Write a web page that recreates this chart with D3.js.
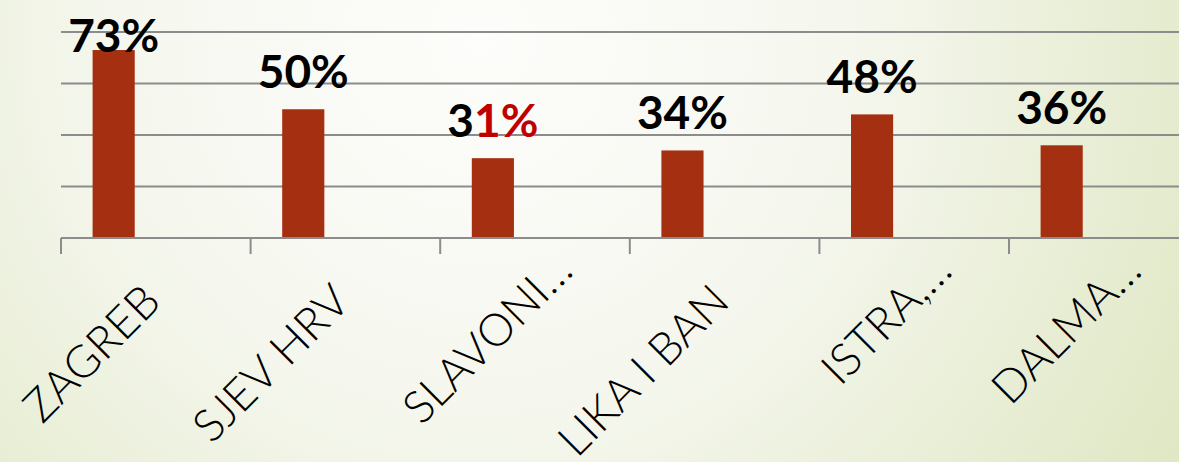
<!DOCTYPE html>
<html>
<head>
<meta charset="utf-8">
<script src="https://cdn.jsdelivr.net/npm/d3@7"></script>
<style>
  html, body { margin: 0; padding: 0; overflow: hidden; }
  svg { display: block; }
</style>
</head>
<body>
<svg id="chart"></svg>
<script>
const categories = ["ZAGREB", "SJEV HRV", "SLAVONI…", "LIKA I BAN", "ISTRA,…", "DALMA…"];
const values = [73, 50, 31, 34, 48, 36];
const gridTicks = [20, 40, 60, 80];
const highlighted = ["SLAVONI…"];

const width = 1179;
const height = 462;

const svg = d3.select("#chart")
    .attr("width", width)
    .attr("height", height);

// background
const defs = svg.append("defs");
const grad = defs.append("radialGradient")
    .attr("id", "bg")
    .attr("gradientUnits", "userSpaceOnUse")
    .attr("cx", 480).attr("cy", 40).attr("r", 820);
grad.append("stop").attr("offset", "0%").attr("stop-color", "#fdfdfb");
grad.append("stop").attr("offset", "45%").attr("stop-color", "#f5f7ee");
grad.append("stop").attr("offset", "100%").attr("stop-color", "#dfe7c3");

svg.append("rect")
    .attr("width", width)
    .attr("height", height)
    .attr("fill", "url(#bg)");

const x = d3.scaleBand()
    .domain(categories)
    .range([61, 61 + 6 * 189.6]);

// 3 series slots per category, only the first one has data
const xs = d3.scaleBand()
    .domain([0, 1, 2])
    .range([0, x.bandwidth()])
    .paddingOuter(0.75);

const y = d3.scaleLinear()
    .domain([0, 80])
    .range([238, 32]);

// gridlines
svg.append("g")
    .selectAll("line")
    .data(gridTicks)
    .join("line")
    .attr("x1", 61)
    .attr("x2", width)
    .attr("y1", d => y(d))
    .attr("y2", d => y(d))
    .attr("stroke", "#8c8c8c")
    .attr("stroke-width", 2);

// bars
svg.append("g")
    .selectAll("rect")
    .data(values)
    .join("rect")
    .attr("x", (d, i) => x(categories[i]) + xs(0))
    .attr("y", d => y(d))
    .attr("width", xs.bandwidth())
    .attr("height", d => y(0) - y(d))
    .attr("fill", "#a52f11");

// x axis
const xAxis = svg.append("g")
    .attr("transform", `translate(0, ${y(0)})`)
    .call(d3.axisBottom(x).tickSize(16).tickFormat(""));

xAxis.select(".domain")
    .attr("d", `M61,0H${width}`)
    .attr("stroke", "#8c8c8c")
    .attr("stroke-width", 2);

xAxis.selectAll(".tick line")
    .attr("stroke", "#8c8c8c")
    .attr("stroke-width", 2)
    .attr("transform", `translate(${-x.bandwidth() / 2}, 0)`);

// category labels, rotated
svg.append("g")
    .selectAll("text")
    .data(categories)
    .join("text")
    .attr("transform", d => {
        const cx = x(d) + x.bandwidth() / 2;
        const cut = d.endsWith("…");
        return `translate(${cx + (cut ? 40 : 7)}, ${cut ? 273 : 304}) rotate(-45)`;
    })
    .attr("text-anchor", "end")
    .attr("font-family", "Lato, 'Open Sans', sans-serif")
    .attr("font-weight", 300)
    .attr("font-size", 45)
    .attr("fill", "#000")
    .text(d => d);

// value labels
const labels = svg.append("g")
    .selectAll("text")
    .data(values)
    .join("text")
    .attr("x", (d, i) => x(categories[i]) + xs(0) + xs.bandwidth() / 2)
    .attr("y", d => Math.max(y(d) - 21, 52))
    .attr("text-anchor", "middle")
    .attr("font-family", "Lato, 'Open Sans', sans-serif")
    .attr("font-weight", 700)
    .attr("font-size", 46)
    .attr("fill", "#000");

labels.each(function(d, i) {
    const t = d3.select(this);
    const s = d + "%";
    if (highlighted.includes(categories[i])) {
        t.append("tspan").text(s.slice(0, 1));
        t.append("tspan").attr("fill", "#c00000").text(s.slice(1));
    } else {
        t.text(s);
    }
});
</script>
</body>
</html>
